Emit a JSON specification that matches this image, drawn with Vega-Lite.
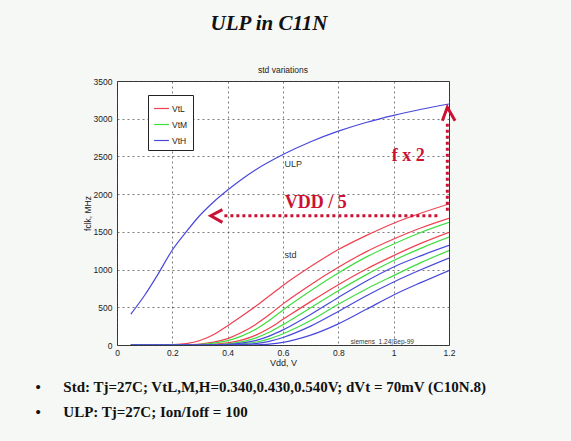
{
  "$schema": "https://vega.github.io/schema/vega-lite/v6.json",
  "background": "#f5f8f5",
  "padding": {"left": 35, "top": 12, "right": 84, "bottom": 24},
  "config": {"font": "Liberation Sans", "view": {"stroke": null}},
  "title": {
    "text": ["•\u00a0\u00a0\u00a0\u00a0\u00a0\u00a0Std: Tj=27C; VtL,M,H=0.340,0.430,0.540V; dVt = 70mV (C10N.8)", "•\u00a0\u00a0\u00a0\u00a0\u00a0\u00a0ULP: Tj=27C; Ion/Ioff = 100"],
    "orient": "bottom", "anchor": "start", "font": "Liberation Serif", "fontSize": 15, "fontWeight": "bold",
    "color": "#111", "lineHeight": 25, "offset": 12, "dx": -47
  },
  "datasets": {
    "curves": [
      {"s":"L1","vt":"VtL","v":0.05,"f":0},{"s":"L1","vt":"VtL","v":0.15,"f":0},{"s":"L1","vt":"VtL","v":0.2,"f":4},{"s":"L1","vt":"VtL","v":0.25,"f":18},{"s":"L1","vt":"VtL","v":0.3,"f":60},{"s":"L1","vt":"VtL","v":0.35,"f":140},{"s":"L1","vt":"VtL","v":0.4,"f":255},{"s":"L1","vt":"VtL","v":0.45,"f":380},{"s":"L1","vt":"VtL","v":0.5,"f":510},{"s":"L1","vt":"VtL","v":0.55,"f":650},{"s":"L1","vt":"VtL","v":0.6,"f":790},{"s":"L1","vt":"VtL","v":0.7,"f":1040},{"s":"L1","vt":"VtL","v":0.8,"f":1265},{"s":"L1","vt":"VtL","v":0.9,"f":1450},{"s":"L1","vt":"VtL","v":1.0,"f":1615},{"s":"L1","vt":"VtL","v":1.1,"f":1750},{"s":"L1","vt":"VtL","v":1.2,"f":1870},
      {"s":"L2","vt":"VtL","v":0.05,"f":0},{"s":"L2","vt":"VtL","v":0.2,"f":0},{"s":"L2","vt":"VtL","v":0.25,"f":3},{"s":"L2","vt":"VtL","v":0.3,"f":12},{"s":"L2","vt":"VtL","v":0.35,"f":38},{"s":"L2","vt":"VtL","v":0.4,"f":85},{"s":"L2","vt":"VtL","v":0.45,"f":165},{"s":"L2","vt":"VtL","v":0.5,"f":270},{"s":"L2","vt":"VtL","v":0.55,"f":400},{"s":"L2","vt":"VtL","v":0.6,"f":545},{"s":"L2","vt":"VtL","v":0.7,"f":800},{"s":"L2","vt":"VtL","v":0.8,"f":1030},{"s":"L2","vt":"VtL","v":0.9,"f":1235},{"s":"L2","vt":"VtL","v":1.0,"f":1405},{"s":"L2","vt":"VtL","v":1.1,"f":1555},{"s":"L2","vt":"VtL","v":1.2,"f":1680},
      {"s":"L3","vt":"VtL","v":0.05,"f":0},{"s":"L3","vt":"VtL","v":0.25,"f":0},{"s":"L3","vt":"VtL","v":0.3,"f":3},{"s":"L3","vt":"VtL","v":0.35,"f":10},{"s":"L3","vt":"VtL","v":0.4,"f":28},{"s":"L3","vt":"VtL","v":0.45,"f":65},{"s":"L3","vt":"VtL","v":0.5,"f":128},{"s":"L3","vt":"VtL","v":0.55,"f":222},{"s":"L3","vt":"VtL","v":0.6,"f":340},{"s":"L3","vt":"VtL","v":0.7,"f":575},{"s":"L3","vt":"VtL","v":0.8,"f":800},{"s":"L3","vt":"VtL","v":0.9,"f":1005},{"s":"L3","vt":"VtL","v":1.0,"f":1185},{"s":"L3","vt":"VtL","v":1.1,"f":1350},{"s":"L3","vt":"VtL","v":1.2,"f":1494},
      {"s":"M1","vt":"VtM","v":0.05,"f":0},{"s":"M1","vt":"VtM","v":0.25,"f":0},{"s":"M1","vt":"VtM","v":0.3,"f":7},{"s":"M1","vt":"VtM","v":0.35,"f":24},{"s":"M1","vt":"VtM","v":0.4,"f":58},{"s":"M1","vt":"VtM","v":0.45,"f":118},{"s":"M1","vt":"VtM","v":0.5,"f":205},{"s":"M1","vt":"VtM","v":0.55,"f":325},{"s":"M1","vt":"VtM","v":0.6,"f":465},{"s":"M1","vt":"VtM","v":0.7,"f":720},{"s":"M1","vt":"VtM","v":0.8,"f":955},{"s":"M1","vt":"VtM","v":0.9,"f":1165},{"s":"M1","vt":"VtM","v":1.0,"f":1340},{"s":"M1","vt":"VtM","v":1.1,"f":1495},{"s":"M1","vt":"VtM","v":1.2,"f":1626},
      {"s":"M2","vt":"VtM","v":0.05,"f":0},{"s":"M2","vt":"VtM","v":0.3,"f":0},{"s":"M2","vt":"VtM","v":0.35,"f":4},{"s":"M2","vt":"VtM","v":0.4,"f":16},{"s":"M2","vt":"VtM","v":0.45,"f":42},{"s":"M2","vt":"VtM","v":0.5,"f":92},{"s":"M2","vt":"VtM","v":0.55,"f":168},{"s":"M2","vt":"VtM","v":0.6,"f":270},{"s":"M2","vt":"VtM","v":0.7,"f":495},{"s":"M2","vt":"VtM","v":0.8,"f":720},{"s":"M2","vt":"VtM","v":0.9,"f":930},{"s":"M2","vt":"VtM","v":1.0,"f":1120},{"s":"M2","vt":"VtM","v":1.1,"f":1285},{"s":"M2","vt":"VtM","v":1.2,"f":1430},
      {"s":"M3","vt":"VtM","v":0.05,"f":0},{"s":"M3","vt":"VtM","v":0.35,"f":0},{"s":"M3","vt":"VtM","v":0.4,"f":4},{"s":"M3","vt":"VtM","v":0.45,"f":14},{"s":"M3","vt":"VtM","v":0.5,"f":36},{"s":"M3","vt":"VtM","v":0.55,"f":82},{"s":"M3","vt":"VtM","v":0.6,"f":150},{"s":"M3","vt":"VtM","v":0.7,"f":325},{"s":"M3","vt":"VtM","v":0.8,"f":540},{"s":"M3","vt":"VtM","v":0.9,"f":740},{"s":"M3","vt":"VtM","v":1.0,"f":920},{"s":"M3","vt":"VtM","v":1.1,"f":1095},{"s":"M3","vt":"VtM","v":1.2,"f":1252},
      {"s":"H1","vt":"VtH","v":0.05,"f":0},{"s":"H1","vt":"VtH","v":0.3,"f":0},{"s":"H1","vt":"VtH","v":0.35,"f":2},{"s":"H1","vt":"VtH","v":0.4,"f":7},{"s":"H1","vt":"VtH","v":0.45,"f":24},{"s":"H1","vt":"VtH","v":0.5,"f":58},{"s":"H1","vt":"VtH","v":0.55,"f":118},{"s":"H1","vt":"VtH","v":0.6,"f":200},{"s":"H1","vt":"VtH","v":0.7,"f":405},{"s":"H1","vt":"VtH","v":0.8,"f":630},{"s":"H1","vt":"VtH","v":0.9,"f":845},{"s":"H1","vt":"VtH","v":1.0,"f":1035},{"s":"H1","vt":"VtH","v":1.1,"f":1185},{"s":"H1","vt":"VtH","v":1.2,"f":1320},
      {"s":"H2","vt":"VtH","v":0.05,"f":0},{"s":"H2","vt":"VtH","v":0.35,"f":0},{"s":"H2","vt":"VtH","v":0.4,"f":1},{"s":"H2","vt":"VtH","v":0.45,"f":5},{"s":"H2","vt":"VtH","v":0.5,"f":18},{"s":"H2","vt":"VtH","v":0.55,"f":48},{"s":"H2","vt":"VtH","v":0.6,"f":100},{"s":"H2","vt":"VtH","v":0.7,"f":250},{"s":"H2","vt":"VtH","v":0.8,"f":445},{"s":"H2","vt":"VtH","v":0.9,"f":650},{"s":"H2","vt":"VtH","v":1.0,"f":835},{"s":"H2","vt":"VtH","v":1.1,"f":1000},{"s":"H2","vt":"VtH","v":1.2,"f":1152},
      {"s":"H3","vt":"VtH","v":0.05,"f":0},{"s":"H3","vt":"VtH","v":0.45,"f":0},{"s":"H3","vt":"VtH","v":0.5,"f":3},{"s":"H3","vt":"VtH","v":0.55,"f":12},{"s":"H3","vt":"VtH","v":0.6,"f":35},{"s":"H3","vt":"VtH","v":0.7,"f":130},{"s":"H3","vt":"VtH","v":0.8,"f":280},{"s":"H3","vt":"VtH","v":0.9,"f":470},{"s":"H3","vt":"VtH","v":1.0,"f":663},{"s":"H3","vt":"VtH","v":1.1,"f":830},{"s":"H3","vt":"VtH","v":1.2,"f":988},
      {"s":"ULP","vt":"VtH","v":0.05,"f":410},{"s":"ULP","vt":"VtH","v":0.1,"f":660},{"s":"ULP","vt":"VtH","v":0.15,"f":950},{"s":"ULP","vt":"VtH","v":0.2,"f":1260},{"s":"ULP","vt":"VtH","v":0.25,"f":1500},{"s":"ULP","vt":"VtH","v":0.3,"f":1720},{"s":"ULP","vt":"VtH","v":0.35,"f":1900},{"s":"ULP","vt":"VtH","v":0.4,"f":2055},{"s":"ULP","vt":"VtH","v":0.45,"f":2195},{"s":"ULP","vt":"VtH","v":0.5,"f":2320},{"s":"ULP","vt":"VtH","v":0.6,"f":2525},{"s":"ULP","vt":"VtH","v":0.7,"f":2695},{"s":"ULP","vt":"VtH","v":0.8,"f":2835},{"s":"ULP","vt":"VtH","v":0.9,"f":2950},{"s":"ULP","vt":"VtH","v":1.0,"f":3045},{"s":"ULP","vt":"VtH","v":1.1,"f":3125},{"s":"ULP","vt":"VtH","v":1.2,"f":3195}
    ],
    "labels": [
      {"t":"ULP","v":0.605,"f":2395},
      {"t":"std","v":0.605,"f":1190}
    ],
    "stamp": [{"t":"siemens_1.24|Sep-99","v":0.845,"f":44}],
    "plottitle": [{"t":"std variations","v":0.6,"f":3500}],
    "redtext": [
      {"t":"VDD / 5","v":0.718,"f":1889},
      {"t":"f x 2","v":1.053,"f":2505}
    ],
    "dotted": [
      {"seg":"h","i":1,"v":1.158,"f":1714},{"seg":"h","i":2,"v":0.381,"f":1714},
      {"seg":"vv","i":1,"v":1.194,"f":1781},{"seg":"vv","i":2,"v":1.194,"f":2974}
    ],
    "heads": [
      {"seg":"hl","i":1,"v":0.381,"f":1794},{"seg":"hl","i":2,"v":0.339,"f":1714},{"seg":"hl","i":3,"v":0.381,"f":1626},
      {"seg":"vl","i":1,"v":1.176,"f":2974},{"seg":"vl","i":2,"v":1.194,"f":3151},{"seg":"vl","i":3,"v":1.222,"f":2974}
    ]
  },
  "vconcat": [
    {
      "title": {"text": "ULP in C11N", "font": "Liberation Serif", "fontSize": 21, "fontWeight": "bold", "fontStyle": "italic", "color": "#111", "offset": 32, "dx": -14, "anchor": "middle"},
      "width": 332,
      "height": 264,
      "view": {"fill": "white", "stroke": "#333", "strokeWidth": 1},
      "encoding": {
        "x": {"field": "v", "type": "quantitative",
          "scale": {"domain": [0, 1.2], "nice": false, "zero": false},
          "axis": {"title": "Vdd, V", "values": [0, 0.2, 0.4, 0.6, 0.8, 1, 1.2], "format": "~g", "grid": true, "gridDash": [2, 3], "gridColor": "#444", "gridOpacity": 0.7, "domain": false, "ticks": false, "labelFlush": false, "labelOverlap": false, "labelFontSize": 8.5, "labelColor": "#222", "labelPadding": 3, "titleFontSize": 9, "titleFontWeight": "normal", "titleColor": "#222", "titlePadding": 2}},
        "y": {"field": "f", "type": "quantitative",
          "scale": {"domain": [0, 3500], "nice": false, "zero": false},
          "axis": {"title": "fclk, MHz", "values": [0, 500, 1000, 1500, 2000, 2500, 3000, 3500], "tickCount": 8, "format": "d", "grid": true, "gridDash": [2, 3], "gridColor": "#444", "gridOpacity": 0.7, "domain": false, "ticks": false, "labelFlush": false, "labelOverlap": false, "labelFontSize": 8.5, "labelColor": "#222", "labelPadding": 5, "titleFontSize": 8.5, "titleFontWeight": "normal", "titleColor": "#222", "titlePadding": 1}}
      },
      "layer": [
        {
          "data": {"name": "curves"},
          "mark": {"type": "line", "strokeWidth": 1.2, "interpolate": "monotone", "clip": true},
          "encoding": {
            "color": {"field": "vt", "type": "nominal",
              "scale": {"domain": ["VtL", "VtM", "VtH"], "range": ["#f04050", "#40dd40", "#4848dd"]},
              "legend": {"orient": "none", "legendX": 31, "legendY": 14, "title": null, "strokeColor": "#222", "fillColor": "white", "padding": 5, "symbolType": "stroke", "symbolSize": 220, "symbolStrokeWidth": 1.2, "labelFontSize": 8.5, "labelColor": "#222", "rowPadding": 3, "labelOffset": 2, "cornerRadius": 0}},
            "detail": {"field": "s"}
          }
        },
        {
          "data": {"name": "labels"},
          "mark": {"type": "text", "align": "left", "baseline": "middle", "fontSize": 9, "color": "#333"},
          "encoding": {"text": {"field": "t"}}
        },
        {
          "data": {"name": "stamp"},
          "mark": {"type": "text", "align": "left", "baseline": "middle", "fontSize": 6.5, "color": "#333"},
          "encoding": {"text": {"field": "t"}}
        },
        {
          "data": {"name": "plottitle"},
          "mark": {"type": "text", "align": "center", "baseline": "bottom", "dy": -6, "fontSize": 8.5, "color": "#222", "clip": false},
          "encoding": {"text": {"field": "t"}}
        },
        {
          "data": {"name": "dotted"},
          "mark": {"type": "line", "color": "#cc1133", "strokeWidth": 3, "strokeDash": [3, 3], "clip": false},
          "encoding": {"detail": {"field": "seg"}, "order": {"field": "i"}}
        },
        {
          "data": {"name": "heads"},
          "mark": {"type": "line", "color": "#cc1133", "strokeWidth": 3, "strokeJoin": "miter", "clip": false},
          "encoding": {"detail": {"field": "seg"}, "order": {"field": "i"}}
        },
        {
          "data": {"name": "redtext"},
          "mark": {"type": "text", "align": "center", "baseline": "middle", "font": "Liberation Serif", "fontWeight": "bold", "fontSize": 18, "color": "#cc1133"},
          "encoding": {"text": {"field": "t"}}
        }
      ]
    }
  ]
}
